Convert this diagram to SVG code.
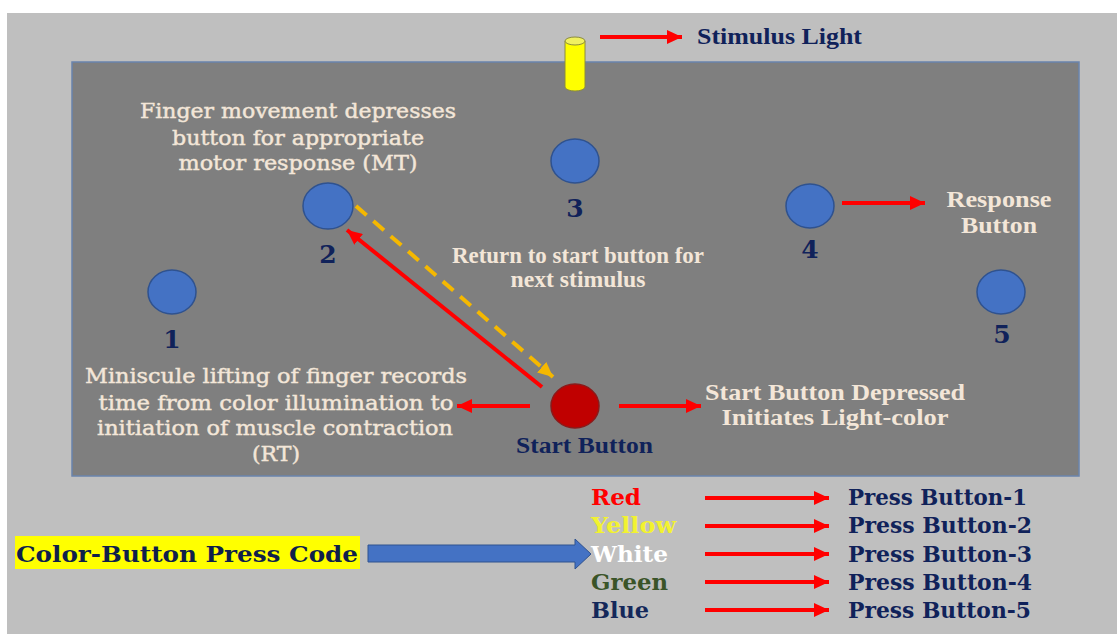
<svg xmlns="http://www.w3.org/2000/svg" width="1117" height="634" viewBox="0 0 1117 634">
<style>
.cream{fill:#f3e6d8;stroke:#f3e6d8;stroke-width:0.45;font-family:"DejaVu Serif","Liberation Serif",serif;font-size:21px;text-anchor:middle}
.creamb{fill:#f3e6d8;font-family:"Liberation Serif",serif;font-weight:bold;font-size:23px;text-anchor:middle}
.num{fill:#10225a;font-family:"DejaVu Serif","Liberation Serif",serif;font-weight:bold;font-size:25px;text-anchor:middle}
.navy{fill:#10225a;font-family:"Liberation Serif",serif;font-weight:bold;font-size:23px}
.code{font-family:"DejaVu Serif","Liberation Serif",serif;font-weight:bold;font-size:22px}
.btn{fill:#4472c4;stroke:#2f528f;stroke-width:1.5}
.red{stroke:#ff0000;stroke-width:4;fill:none;marker-end:url(#rh)}
</style>
<defs>
<marker id="rh" markerUnits="userSpaceOnUse" markerWidth="16" markerHeight="14" refX="15" refY="7" orient="auto">
<path d="M0,0 L15,7 L0,14 z" fill="#ff0000"/>
</marker>
<marker id="yh" markerUnits="userSpaceOnUse" markerWidth="16" markerHeight="14" refX="15" refY="7" orient="auto">
<path d="M0,0 L15,7 L0,14 z" fill="#f5b800"/>
</marker>
</defs>
<rect x="0" y="0" width="1117" height="634" fill="#ffffff"/>
<rect x="7" y="13" width="1110" height="621" fill="#bfbfbf"/>
<rect id="panel" x="72" y="62" width="1007" height="414" fill="#7f7f7f" stroke="#6a84ad" stroke-width="1.5"/>

<g id="stimulus-light">
<path d="M565,41 L565,87 A10,4 0 0 0 585,87 L585,41" fill="#ffff00" stroke="#8c8c3c" stroke-width="1"/>
<ellipse cx="575" cy="41" rx="10" ry="4" fill="#f0f060" stroke="#8c8c3c" stroke-width="1"/>
<text class="navy" x="697" y="44" textLength="165" lengthAdjust="spacingAndGlyphs">Stimulus Light</text>
</g>

<g id="btn1"><ellipse class="btn" cx="172" cy="292" rx="24" ry="22"/><text class="num" x="172" y="348">1</text></g>
<g id="btn2"><ellipse class="btn" cx="328" cy="206" rx="25" ry="23"/><text class="num" x="328" y="263">2</text></g>
<g id="btn3"><ellipse class="btn" cx="575" cy="161" rx="24" ry="22"/><text class="num" x="575" y="217">3</text></g>
<g id="btn4"><ellipse class="btn" cx="810" cy="206" rx="24" ry="22"/><text class="num" x="810" y="258">4</text></g>
<g id="btn5"><ellipse class="btn" cx="1001" cy="292" rx="24" ry="22"/><text class="num" x="1002" y="343">5</text></g>
<g id="start"><ellipse cx="575" cy="406" rx="24" ry="22" fill="#c00000" stroke="#8b1a1a" stroke-width="1.5"/>
<text class="navy" x="516" y="453" textLength="137" lengthAdjust="spacingAndGlyphs">Start Button</text></g>

<g id="mt-label">
<text class="cream" x="298" y="118" textLength="316" lengthAdjust="spacingAndGlyphs">Finger movement depresses</text>
<text class="cream" x="298" y="145" textLength="252" lengthAdjust="spacingAndGlyphs">button for appropriate</text>
<text class="cream" x="298" y="170" textLength="239" lengthAdjust="spacingAndGlyphs">motor response (MT)</text>
</g>
<g id="return-label">
<text class="creamb" x="578" y="263" textLength="252" lengthAdjust="spacingAndGlyphs">Return to start button for</text>
<text class="creamb" x="578" y="287" textLength="135" lengthAdjust="spacingAndGlyphs">next stimulus</text>
</g>
<g id="response-label">
<text class="creamb" x="999" y="207" textLength="105" lengthAdjust="spacingAndGlyphs">Response</text>
<text class="creamb" x="999" y="233" textLength="76" lengthAdjust="spacingAndGlyphs">Button</text>
</g>
<g id="rt-label">
<text class="cream" x="276" y="383" textLength="382" lengthAdjust="spacingAndGlyphs">Miniscule lifting of finger records</text>
<text class="cream" x="276" y="410" textLength="355" lengthAdjust="spacingAndGlyphs">time from color illumination to</text>
<text class="cream" x="275" y="435" textLength="356" lengthAdjust="spacingAndGlyphs">initiation of muscle contraction</text>
<text class="cream" x="276" y="461" textLength="48" lengthAdjust="spacingAndGlyphs">(RT)</text>
</g>
<g id="depressed-label">
<text class="creamb" x="835" y="400" textLength="260" lengthAdjust="spacingAndGlyphs">Start Button Depressed</text>
<text class="creamb" x="835" y="425" textLength="227" lengthAdjust="spacingAndGlyphs">Initiates Light-color</text>
</g>

<g id="code-label">
<rect x="15" y="536" width="345" height="33" fill="#ffff00"/>
<text class="code" x="16" y="562" fill="#0f1f4b" font-size="25" textLength="342" lengthAdjust="spacingAndGlyphs">Color-Button Press Code</text>
</g>
<g id="colors" class="code">
<text x="591" y="505" fill="#ff0000" textLength="50" lengthAdjust="spacingAndGlyphs">Red</text>
<text x="591" y="533" fill="#f2f230" textLength="85" lengthAdjust="spacingAndGlyphs">Yellow</text>
<text x="591" y="562" fill="#ffffff" textLength="77" lengthAdjust="spacingAndGlyphs">White</text>
<text x="591" y="590" fill="#3a5428" textLength="77" lengthAdjust="spacingAndGlyphs">Green</text>
<text x="591" y="618" fill="#14285a" textLength="58" lengthAdjust="spacingAndGlyphs">Blue</text>
</g>
<g id="press" class="code" fill="#10225a">
<text x="848" y="505" textLength="179" lengthAdjust="spacingAndGlyphs">Press Button-1</text>
<text x="848" y="533" textLength="184" lengthAdjust="spacingAndGlyphs">Press Button-2</text>
<text x="848" y="562" textLength="184" lengthAdjust="spacingAndGlyphs">Press Button-3</text>
<text x="848" y="590" textLength="184" lengthAdjust="spacingAndGlyphs">Press Button-4</text>
<text x="848" y="618" textLength="183" lengthAdjust="spacingAndGlyphs">Press Button-5</text>
</g>

<g id="connectors">
<line class="red" x1="600" y1="37" x2="682" y2="37"/>
<line class="red" x1="842" y1="203" x2="925" y2="203"/>
<line class="red" x1="542" y1="387" x2="347" y2="230"/>
<line x1="356" y1="206" x2="553" y2="377" stroke="#f5b800" stroke-width="4" stroke-dasharray="14,9" marker-end="url(#yh)"/>
<line class="red" x1="530" y1="406" x2="457" y2="406"/>
<line class="red" x1="619" y1="406" x2="701" y2="406"/>
<path d="M368,545 L575,545 L575,539 L591,554 L575,569 L575,562 L368,562 z" fill="#4472c4" stroke="#2f528f" stroke-width="1"/>
<line class="red" x1="705" y1="498" x2="829" y2="498"/>
<line class="red" x1="705" y1="526" x2="829" y2="526"/>
<line class="red" x1="705" y1="554" x2="829" y2="554"/>
<line class="red" x1="705" y1="582" x2="829" y2="582"/>
<line class="red" x1="705" y1="610" x2="829" y2="610"/>
</g>
</svg>
